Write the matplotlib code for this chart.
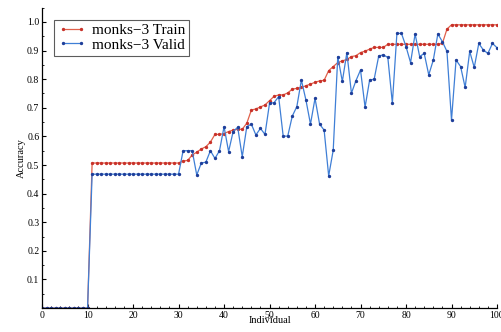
import numpy as np
import matplotlib
matplotlib.use("Agg")
import matplotlib.pyplot as plt
from matplotlib.ticker import MultipleLocator

individual = list(range(0, 101))

train_acc = (
    [0.0] * 11
    + [0.507] * 20
    + [0.514, 0.516, 0.535, 0.545, 0.556, 0.564, 0.58, 0.607, 0.607, 0.61,
       0.617, 0.622, 0.625, 0.625, 0.646, 0.692, 0.696, 0.703, 0.71, 0.725,
       0.74, 0.745, 0.745, 0.752, 0.765, 0.768, 0.771, 0.777, 0.783, 0.789,
       0.794, 0.796, 0.83, 0.844, 0.858, 0.864, 0.869, 0.879, 0.882, 0.893,
       0.898, 0.905, 0.911, 0.911, 0.911, 0.922, 0.922, 0.922, 0.922, 0.922,
       0.922, 0.922, 0.922, 0.922, 0.922, 0.922, 0.922, 0.925, 0.975]
    + [0.99] * 11
)

valid_acc = (
    [0.0] * 11
    + [0.468] * 20
    + [0.55, 0.55, 0.55, 0.465, 0.507, 0.51, 0.55, 0.523, 0.55, 0.634,
       0.547, 0.617, 0.632, 0.529, 0.634, 0.643, 0.605, 0.628, 0.607, 0.716,
       0.718, 0.739, 0.601, 0.601, 0.671, 0.704, 0.797, 0.727, 0.643, 0.733,
       0.643, 0.622, 0.462, 0.552, 0.879, 0.792, 0.893, 0.751, 0.795, 0.832,
       0.702, 0.797, 0.80, 0.881, 0.885, 0.876, 0.716, 0.96, 0.96, 0.914,
       0.858, 0.958, 0.879, 0.89, 0.815, 0.867, 0.958, 0.931, 0.897, 0.657,
       0.867, 0.844, 0.771, 0.897, 0.841, 0.925, 0.902, 0.89, 0.925, 0.91]
)

x_ticks = [0, 10, 20, 30, 40, 50, 60, 70, 80, 90, 100]
y_ticks = [0.1, 0.2, 0.3, 0.4, 0.5, 0.6, 0.7, 0.8, 0.9, 1.0]

plt.rcParams["font.family"] = ["Liberation Serif", "DejaVu Serif"]

fig = plt.figure(figsize=(5.01, 3.32), dpi=100)
ax = fig.add_axes([0.084, 0.072, 0.908, 0.905])

ax.plot(individual, train_acc, color="#e0604a", lw=0.9, marker="o", ms=1.4,
        mfc="#c8322a", mec="#c8322a", label="monks\u22123 Train")
ax.plot(individual, valid_acc, color="#3f7fd6", lw=0.9, marker="o", ms=1.4,
        mfc="#1f3f9a", mec="#1f3f9a", label="monks\u22123 Valid")

ax.set_xlim(0, 100)
ax.set_ylim(0, 1.05)
ax.set_xticks(x_ticks)
ax.set_yticks(y_ticks)
ax.set_yticklabels([f"{v:.1f}" for v in y_ticks])
ax.xaxis.set_minor_locator(MultipleLocator(2))
ax.yaxis.set_minor_locator(MultipleLocator(0.05))
ax.tick_params(which="both", direction="in", labelsize=7, pad=2)
ax.tick_params(which="major", length=3, width=0.8)
ax.tick_params(which="minor", length=1.5, width=0.6)

for side in ("top", "right"):
    ax.spines[side].set_visible(False)
for side in ("left", "bottom"):
    ax.spines[side].set_linewidth(0.9)

ax.set_xlabel("Individual", fontsize=7.5, labelpad=-3)
ax.set_ylabel("Accuracy", fontsize=7.5, labelpad=1)

leg = ax.legend(loc="upper left", fontsize=11, numpoints=2, handlelength=1.8,
                frameon=True, fancybox=False, edgecolor="#333333",
                borderpad=0.25, labelspacing=0.05, handletextpad=0.4,
                bbox_to_anchor=(0.01, 0.985))
leg.get_frame().set_linewidth(0.8)

fig.savefig("out.png", dpi=100)
